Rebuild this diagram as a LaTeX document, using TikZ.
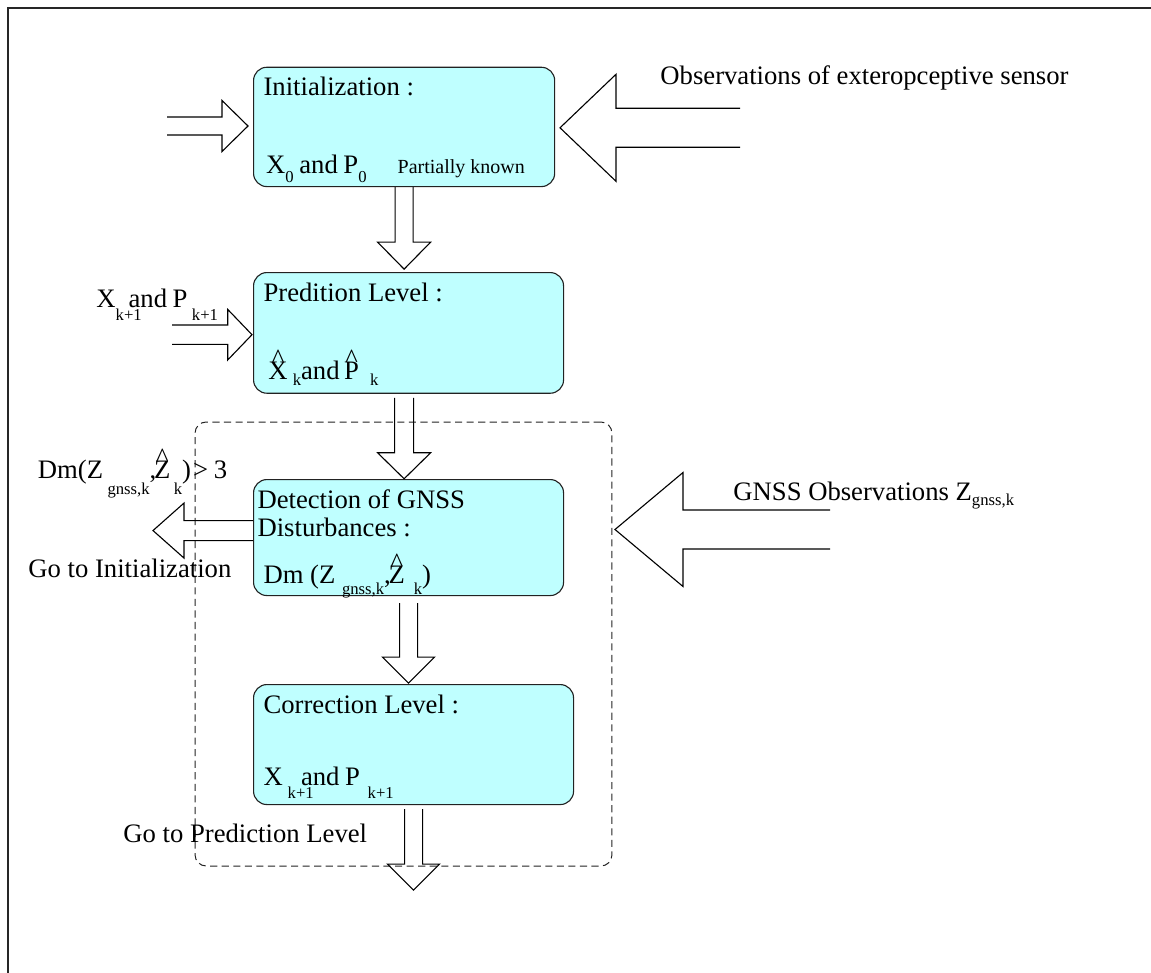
\documentclass[tikz,border=0pt]{standalone}
\usepackage{fontspec}
\setmainfont{Liberation Serif}
\usetikzlibrary{calc}
\definecolor{stagecyan}{RGB}{191,255,255}
\definecolor{edge}{RGB}{34,34,34}
% lowered subscript and a caret set above a letter
\newcommand{\lo}[2][6pt]{\raisebox{-#1}{\fontsize{7.5}{8}\selectfont #2}}
\newcommand{\hatted}[1]{\ooalign{#1\cr\hidewidth\raisebox{0.45em}{\textasciicircum}\hidewidth\cr}}
\tikzset{
  stagebox/.style={draw=edge, fill=stagecyan, line width=0.5pt,
    rounded corners=6pt, anchor=north west,
    inner xsep=4.5pt, inner ysep=4.5pt, font=\fontsize{12}{14}\selectfont},
  txt/.style={anchor=base west, inner sep=0pt, font=\fontsize{12}{14}\selectfont},
  hollow/.style={draw=black, line width=0.5pt, line join=miter},
  groupbox/.style={draw=edge, dash pattern=on 3.2pt off 2pt,
    rounded corners=5pt, line width=0.45pt, inner sep=0pt},
  frameline/.style={draw=black!85, line width=0.6pt}
}

\begin{document}
\begin{tikzpicture}[x=0.45pt, y=-0.45pt]
  \useasboundingbox (0,0) rectangle (1151,973);

  \draw[frameline] (8,973) -- (8,8) -- (1151,8);

  % detection / correction loop
  \node[groupbox, minimum width=187.6pt, minimum height=199.8pt] (loop) at (403.5,644) {};

  % filter stages
  \node[stagebox] (init) at (253,66.7)
    {\parbox[t][44.7pt][t]{126.5pt}{Initialization :\\[21.1pt]%
     \smash{\hspace*{1.2pt}X\lo[3.8pt]{0}\hspace{2.5pt}and\hspace{2.5pt}P\lo[3.8pt]{0}\hspace{14pt}{\fontsize{9}{10}\selectfont Partially known}}}};

  \node[stagebox] (pred) at (253,272)
    {\parbox[t][45.3pt][t]{130.5pt}{Predition Level :\\[21.1pt]%
     \smash{\hspace*{2.2pt}\hatted{X}\hspace{2.3pt}\lo[3pt]{k}and\hspace{2pt}\hatted{P}\hspace{5pt}\lo[3pt]{k}}}};

  \node[stagebox] (detect) at (253,479)
    {\parbox[t][43.2pt][t]{130.5pt}{\hspace*{-2.7pt}Detection of GNSS\\[-1.4pt]%
     \hspace*{-2.7pt}Disturbances :\\[7.2pt]%
     \smash{Dm (Z\hspace{3pt}\lo[5pt]{gnss,k},\hspace{-1pt}\hatted{Z}\hspace{4pt}\lo[5pt]{k})}}};

  \node[stagebox] (corr) at (253,684)
    {\parbox[t][45pt][t]{135pt}{Correction Level :\\[18.4pt]%
     \smash{X\hspace{2.2pt}\rlap{\lo{k+1}}\hspace{6pt}and\hspace{2.5pt}P\hspace{3.5pt}\lo{k+1}}}};

  % outside labels
  \node[txt] (obstext) at (660,85) {Observations of exteropceptive sensor};
  \node[txt] (gnsstext) at (733,500) {GNSS Observations Z\lo[2.3pt]{gnss,k}};
  \node[txt] (prevstate) at (96,307)
    {X\rlap{\lo{k+1}}\hspace{5.8pt}and\hspace{2.5pt}P\hspace{2pt}\lo{k+1}};
  \node[txt] (threshold) at (37.5,478)
    {Dm(Z\hspace{2pt}\lo[7.6pt]{gnss,k},\hspace{-1pt}\hatted{Z}\hspace{1.5pt}\lo[7.6pt]{k})\hspace{1pt}>\hspace{2.5pt}3};
  \node[txt] (goinit) at (28,577) {Go to Initialization};
  \node[txt] (gopred) at (123,842) {Go to Prediction Level};

  % open tails of the input arrows
  \coordinate (initsrc) at (167,126);
  \coordinate (predsrc) at (172,334.7);
  \coordinate (obssrc) at (740,127.8);
  \coordinate (gnsssrc) at (830,529.5);

  % inputs
  \draw[hollow] ($(initsrc)+(0,-9)$) -- ++(55,0) -- ++(0,-16.5) -- ++(26,25.5)
    -- ++(-26,25.5) -- ++(0,-16.5) -- ++(-55,0);
  \draw[hollow] ($(predsrc)+(0,-9.7)$) -- ++(55.7,0) -- ++(0,-15.6) -- ++(24.3,25.3)
    -- ++(-24.3,25.3) -- ++(0,-15.6) -- ++(-55.7,0);
  \draw[hollow] ($(obssrc)+(0,-19.5)$) -- ++(-124,0) -- ++(0,-34) -- ++(-56,53.5)
    -- ++(56,53.5) -- ++(0,-34) -- ++(124,0);
  \draw[hollow] ($(gnsssrc)+(0,-19.5)$) -- ++(-147,0) -- ++(0,-37.5) -- ++(-68,57)
    -- ++(68,57) -- ++(0,-37.5) -- ++(147,0);

  % stage to stage
  \draw[hollow] ($(init.south)+(-9,0)$) -- ++(0,55) -- ++(-17.5,0) -- ++(26.5,27)
    -- ++(26.5,-27) -- ++(-17.5,0) -- ++(0,-55);
  \draw[hollow] ($(init.south |- pred.south)+(-9.5,4)$) -- ++(0,55) -- ++(-17,0) -- ++(26.5,26)
    -- ++(26.5,-26) -- ++(-17,0) -- ++(0,-55);
  \draw[hollow] ($(detect.south)+(-9,7)$) -- ++(0,54) -- ++(-17,0) -- ++(26,26)
    -- ++(26,-26) -- ++(-17,0) -- ++(0,-54);
  \draw[hollow] ($(corr.south)+(-9,4)$) -- ++(0,55) -- ++(-17,0) -- ++(26,26)
    -- ++(26,-26) -- ++(-17,0) -- ++(0,-55);

  % disturbance detected
  \draw[hollow] ($(detect.west)+(0,-17)$) -- ++(-69,0) -- ++(0,-17.5) -- ++(-31,27.5)
    -- ++(31,27.5) -- ++(0,-17.5) -- ++(69,0);
\end{tikzpicture}
\end{document}
